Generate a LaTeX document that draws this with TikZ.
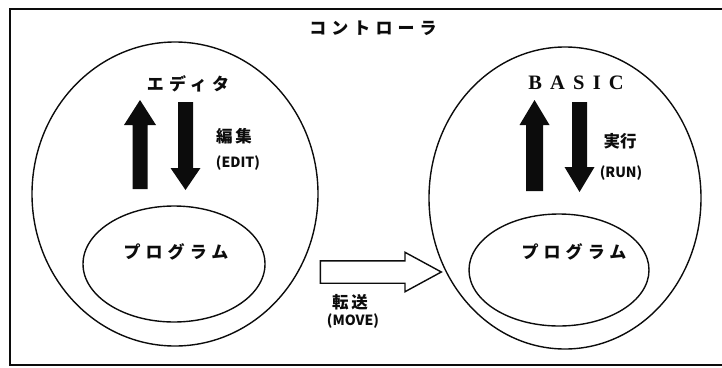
\documentclass[tikz,border=0pt]{standalone}
\usepackage{fontspec}
\setmainfont{Noto Sans CJK JP}
\newfontfamily\jpwide[LetterSpace=30]{Noto Sans CJK JP}
\newfontfamily\basicfont[LetterSpace=40]{Liberation Serif}
\usetikzlibrary{shapes.geometric, shapes.arrows}
\definecolor{ink}{RGB}{12,12,12}
\tikzset{
  zone/.style={
    ellipse, draw=ink, line width=1.4pt, inner sep=0pt
  },
  kana/.style={font=\jpwide\bfseries\fontsize{17}{17}\selectfont, text=ink},
  kanji/.style={font=\bfseries\fontsize{16.5}{16.5}\selectfont, text=ink},
  cmd/.style={font=\bfseries\fontsize{14}{14}\selectfont, text=ink},
  blk/.style={fill=ink, draw=none},
  hollow/.style={
    single arrow, draw=ink, fill=white, line width=1.4pt, inner xsep=0pt,
    inner ysep=10.5pt, single arrow head extend=8.5pt,
    single arrow tip angle=57, minimum height=121pt
  },
  frame/.style={draw=ink, line width=1.6pt},
}

\begin{document}
\begin{tikzpicture}[x=1pt, y=-1pt]
  \useasboundingbox (0,0) rectangle (722,367);

  %% ── Controller frame ───────────────────────────────────────────────────────

  \draw[frame] (722,9) -- (10,9) -- (10,365) -- (722,365);
  \node[kana] (ctrl) at (373,28) {コントローラ};

  %% ── Editor side ────────────────────────────────────────────────────────────

  \node[zone, minimum width=286pt, minimum height=304pt] (edZone) at (175,194) {};
  \node[zone, minimum width=182pt, minimum height=116pt] (progL) at (174,264) {};
  \node[kana] (progLtxt) at (176,252) {プログラム};
  \node[kana] (editor) at (188,84) {エディタ};

  % block arrows: up = load, down = edit
  \fill[blk] (132.5,189) -- (132.5,125) -- (124,125) -- (140,100)
    -- (156,125) -- (147.5,125) -- (147.5,189) -- cycle;
  \fill[blk] (178,102) -- (178,168) -- (170.5,168) -- (185.5,190)
    -- (200.5,168) -- (193,168) -- (193,102) -- cycle;

  \node[kanji] (edit) at (234,136) {編\,集};
  \node[cmd] (editCmd) at (238,163) {(EDIT)};

  %% ── BASIC side ─────────────────────────────────────────────────────────────

  \node[zone, minimum width=272pt, minimum height=302pt] (runZone) at (565,198) {};
  \node[zone, minimum width=180pt, minimum height=112pt] (progR) at (559,270) {};
  \node[kana] (progRtxt) at (574,252) {プログラム};
  \node[font=\basicfont\bfseries\fontsize{20.5}{20.5}\selectfont, text=ink]
    (basic) at (576,83) {BASIC};

  \fill[blk] (526,191) -- (526,125) -- (519.5,125) -- (534.5,100)
    -- (549.5,125) -- (543,125) -- (543,191) -- cycle;
  \fill[blk] (572,102) -- (572,167) -- (564.5,167) -- (579.5,192)
    -- (594.5,167) -- (587,167) -- (587,102) -- cycle;

  \node[kanji] (run) at (620,141) {実行};
  \node[cmd] (runCmd) at (621,173) {(RUN)};

  %% ── Transfer ───────────────────────────────────────────────────────────────

  \node[hollow] (move) at (370.5,272) {};
  \node[kanji] (trans) at (350,302) {転\,送};
  \node[cmd] (moveCmd) at (353,321) {(MOVE)};

\end{tikzpicture}
\end{document}
